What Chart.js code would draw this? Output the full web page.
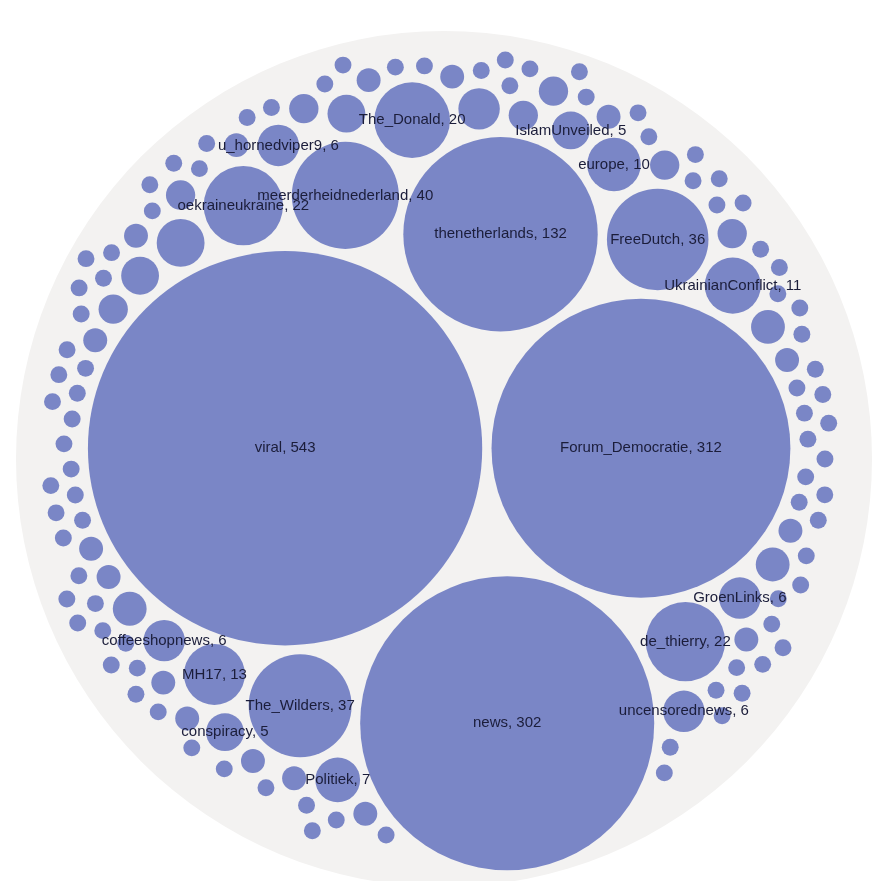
<!DOCTYPE html>
<html>
<head>
<meta charset="utf-8">
<script src="https://cdn.jsdelivr.net/npm/chart.js@4.4.1/dist/chart.umd.min.js"></script>
<style>
  html, body { margin: 0; padding: 0; background: #ffffff; overflow: hidden; }
  #chart { display: block; }
</style>
</head>
<body>
<canvas id="chart" width="880" height="900"></canvas>
<script>
// subreddits, biggest first ('' = circle without a label in the picture)
const names = [
    'viral', 'Forum_Democratie', 'news', 'thenetherlands', 'meerderheidnederland',
    'The_Wilders', 'FreeDutch', 'de_thierry', 'oekraineukraine', 'The_Donald',
    'MH17', 'UkrainianConflict', 'europe', '', 'Politiek',
    'GroenLinks', 'coffeeshopnews', 'u_hornedviper9', '', 'uncensorednews',
    '', '', 'IslamUnveiled', 'conspiracy'
];
const counts = [543, 312, 302, 132, 40, 37, 36, 22, 22, 20, 13, 11, 10, 8, 7, 6, 6, 6, 6, 6, 5, 5, 5, 5];

// the small unlabeled circles (estimated from their size)
const otherCounts = [
    4, 4, 4, 3, 3, 3, 3, 3, 3, 3,
    2, 2, 2, 2, 2, 2, 2, 2, 2, 2, 2, 2, 2, 2, 2, 2,
    1, 1, 1, 1, 1, 1, 1, 1, 1, 1, 1, 1, 1, 1, 1, 1, 1, 1, 1, 1,
    1, 1, 1, 1, 1, 1, 1, 1, 1, 1, 1, 1, 1, 1, 1, 1, 1, 1, 1, 1,
    1, 1, 1, 1, 1, 1, 1, 1, 1, 1, 1, 1, 1, 1, 1, 1, 1, 1, 1, 1,
    1, 1, 1, 1, 1, 1, 1, 1, 1, 1, 1, 1, 1, 1, 1, 1, 1, 1, 1, 1,
    1, 1, 1, 1, 1, 1, 1
];

const BUBBLE_COLOR = '#7a86c6';
const ROOT_COLOR = '#f3f2f1';
const PAD = 0.55; // gap between circles, in sqrt(count) units

// ---- circle packing (front-chain, same as d3.packSiblings) ----
function place(b, a, c) {
    let dx = b.x - a.x, dy = b.y - a.y, d2 = dx * dx + dy * dy, x, y;
    if (d2) {
        let a2 = a.r + c.r, b2 = b.r + c.r;
        a2 *= a2; b2 *= b2;
        if (a2 > b2) {
            x = (d2 + b2 - a2) / (2 * d2);
            y = Math.sqrt(Math.max(0, b2 / d2 - x * x));
            c.x = b.x - x * dx - y * dy;
            c.y = b.y - x * dy + y * dx;
        } else {
            x = (d2 + a2 - b2) / (2 * d2);
            y = Math.sqrt(Math.max(0, a2 / d2 - x * x));
            c.x = a.x + x * dx - y * dy;
            c.y = a.y + x * dy + y * dx;
        }
    } else {
        c.x = a.x + c.r;
        c.y = a.y;
    }
}

function intersects(a, b) {
    const dr = a.r + b.r - 1e-6, dx = b.x - a.x, dy = b.y - a.y;
    return dr > 0 && dr * dr > dx * dx + dy * dy;
}

function score(node) {
    const a = node._, b = node.next._, ab = a.r + b.r;
    const dx = (a.x * b.r + b.x * a.r) / ab, dy = (a.y * b.r + b.y * a.r) / ab;
    return dx * dx + dy * dy;
}

function Node(circle) { this._ = circle; this.next = null; this.previous = null; }

function packSiblings(circles) {
    const n = circles.length;
    let a, b, c, aa, ca, i, j, k, sj, sk;
    a = circles[0]; a.x = 0; a.y = 0;
    b = circles[1]; a.x = -b.r; b.x = a.r; b.y = 0;
    place(b, a, c = circles[2]);
    a = new Node(a); b = new Node(b); c = new Node(c);
    a.next = c.previous = b;
    b.next = a.previous = c;
    c.next = b.previous = a;

    pack: for (i = 3; i < n; ++i) {
        place(a._, b._, c = circles[i]); c = new Node(c);
        j = b.next; k = a.previous; sj = b._.r; sk = a._.r;
        do {
            if (sj <= sk) {
                if (intersects(j._, c._)) { b = j; a.next = b; b.previous = a; --i; continue pack; }
                sj += j._.r; j = j.next;
            } else {
                if (intersects(k._, c._)) { a = k; a.next = b; b.previous = a; --i; continue pack; }
                sk += k._.r; k = k.previous;
            }
        } while (j !== k.next);
        c.previous = a; c.next = b; a.next = b.previous = b = c;
        aa = score(a);
        while ((c = c.next) !== b) {
            if ((ca = score(c)) < aa) { a = c; aa = ca; }
        }
        b = a.next;
    }

    const chain = [b._];
    c = b;
    while ((c = c.next) !== b) chain.push(c._);
    const e = enclose(chain);
    for (i = 0; i < n; ++i) { circles[i].x -= e.x; circles[i].y -= e.y; }
    return e.r;
}

// smallest circle around a set of circles
function enclose(list) {
    let i = 0, B = [], e = null;
    while (i < list.length) {
        const p = list[i];
        if (e && enclosesWeak(e, p)) ++i;
        else { B = extendBasis(B, p); e = encloseBasis(B); i = 0; }
    }
    return e;
}
function extendBasis(B, p) {
    if (enclosesWeakAll(p, B)) return [p];
    for (let i = 0; i < B.length; ++i) {
        if (enclosesNot(p, B[i]) && enclosesWeakAll(basis2(B[i], p), B)) return [B[i], p];
    }
    for (let i = 0; i < B.length - 1; ++i) {
        for (let j = i + 1; j < B.length; ++j) {
            if (enclosesNot(basis2(B[i], B[j]), p) && enclosesNot(basis2(B[i], p), B[j]) &&
                enclosesNot(basis2(B[j], p), B[i]) && enclosesWeakAll(basis3(B[i], B[j], p), B)) {
                return [B[i], B[j], p];
            }
        }
    }
    return [p];
}
function enclosesNot(a, b) {
    const dr = a.r - b.r, dx = b.x - a.x, dy = b.y - a.y;
    return dr < 0 || dr * dr < dx * dx + dy * dy;
}
function enclosesWeak(a, b) {
    const dr = a.r - b.r + Math.max(a.r, b.r, 1) * 1e-9, dx = b.x - a.x, dy = b.y - a.y;
    return dr > 0 && dr * dr > dx * dx + dy * dy;
}
function enclosesWeakAll(a, B) {
    for (let i = 0; i < B.length; ++i) if (!enclosesWeak(a, B[i])) return false;
    return true;
}
function encloseBasis(B) {
    if (B.length === 1) return { x: B[0].x, y: B[0].y, r: B[0].r };
    if (B.length === 2) return basis2(B[0], B[1]);
    return basis3(B[0], B[1], B[2]);
}
function basis2(a, b) {
    const x21 = b.x - a.x, y21 = b.y - a.y, r21 = b.r - a.r;
    const l = Math.sqrt(x21 * x21 + y21 * y21);
    return { x: (a.x + b.x + x21 / l * r21) / 2, y: (a.y + b.y + y21 / l * r21) / 2, r: (l + a.r + b.r) / 2 };
}
function basis3(a, b, c) {
    const x1 = a.x, y1 = a.y, r1 = a.r, x2 = b.x, y2 = b.y, r2 = b.r, x3 = c.x, y3 = c.y, r3 = c.r;
    const a2 = x1 - x2, a3 = x1 - x3, b2 = y1 - y2, b3 = y1 - y3, c2 = r2 - r1, c3 = r3 - r1;
    const d1 = x1 * x1 + y1 * y1 - r1 * r1;
    const d2 = d1 - x2 * x2 - y2 * y2 + r2 * r2;
    const d3 = d1 - x3 * x3 - y3 * y3 + r3 * r3;
    const ab = a3 * b2 - a2 * b3;
    const xa = (b2 * d3 - b3 * d2) / (ab * 2) - x1, xb = (b3 * c2 - b2 * c3) / ab;
    const ya = (a3 * d2 - a2 * d3) / (ab * 2) - y1, yb = (a2 * c3 - a3 * c2) / ab;
    const A = xb * xb + yb * yb - 1, Bq = 2 * (r1 + xa * xb + ya * yb), C = xa * xa + ya * ya - r1 * r1;
    const r = -(Math.abs(A) > 1e-6 ? (Bq + Math.sqrt(Bq * Bq - 4 * A * C)) / (2 * A) : C / Bq);
    return { x: x1 + xa + xb * r, y: y1 + ya + yb * r, r: r };
}

// build the nodes, biggest first (stable for ties), and pack them
const nodes = names.map((name, i) => ({ label: name ? name + ', ' + counts[i] : '', value: counts[i] }))
    .concat(otherCounts.map(v => ({ label: '', value: v })));
nodes.sort((a, b) => b.value - a.value);

const circles = nodes.map(n => ({ r: Math.sqrt(n.value) + PAD }));
const rootR = packSiblings(circles) + PAD;
circles.forEach(c => { c.r -= PAD; });

const labelPlugin = {
    id: 'circleLabels',
    afterDatasetsDraw(chart) {
        const meta = chart.getDatasetMeta(1);
        const ctx = chart.ctx;
        ctx.save();
        ctx.font = '15px "Liberation Sans", Arial, sans-serif';
        ctx.fillStyle = '#1b1d3a';
        ctx.textAlign = 'center';
        ctx.textBaseline = 'middle';
        meta.data.forEach((el, i) => {
            if (nodes[i].label) ctx.fillText(nodes[i].label, el.x, el.y);
        });
        ctx.restore();
    }
};

const chart = new Chart(document.getElementById('chart'), {
    type: 'bubble',
    data: {
        datasets: [
            {
                label: 'all',
                data: [{ x: 0, y: 0, r: 1 }],
                backgroundColor: ROOT_COLOR,
                borderWidth: 0,
                order: 1,
                clip: false
            },
            {
                label: 'subreddits',
                data: circles.map(c => ({ x: c.x, y: c.y, r: 1 })),
                backgroundColor: BUBBLE_COLOR,
                borderWidth: 0,
                order: 0,
                clip: false
            }
        ]
    },
    options: {
        responsive: false,
        animation: false,
        events: [],
        layout: { autoPadding: false, padding: { left: 16, right: 8, top: 31, bottom: 13 } },
        scales: {
            x: { type: 'linear', min: -rootR, max: rootR, display: false },
            y: { type: 'linear', min: -rootR, max: rootR, reverse: true, display: false }
        },
        plugins: {
            legend: { display: false },
            tooltip: { enabled: false }
        }
    },
    plugins: [labelPlugin]
});

// bubble radius is in pixels: convert from the packing units with the x scale
const xs = chart.scales.x;
const pxPerUnit = Math.abs(xs.getPixelForValue(1) - xs.getPixelForValue(0));
chart.data.datasets[0].data[0].r = rootR * pxPerUnit;
chart.data.datasets[1].data.forEach((d, i) => { d.r = circles[i].r * pxPerUnit; });
chart.update();
</script>
</body>
</html>
